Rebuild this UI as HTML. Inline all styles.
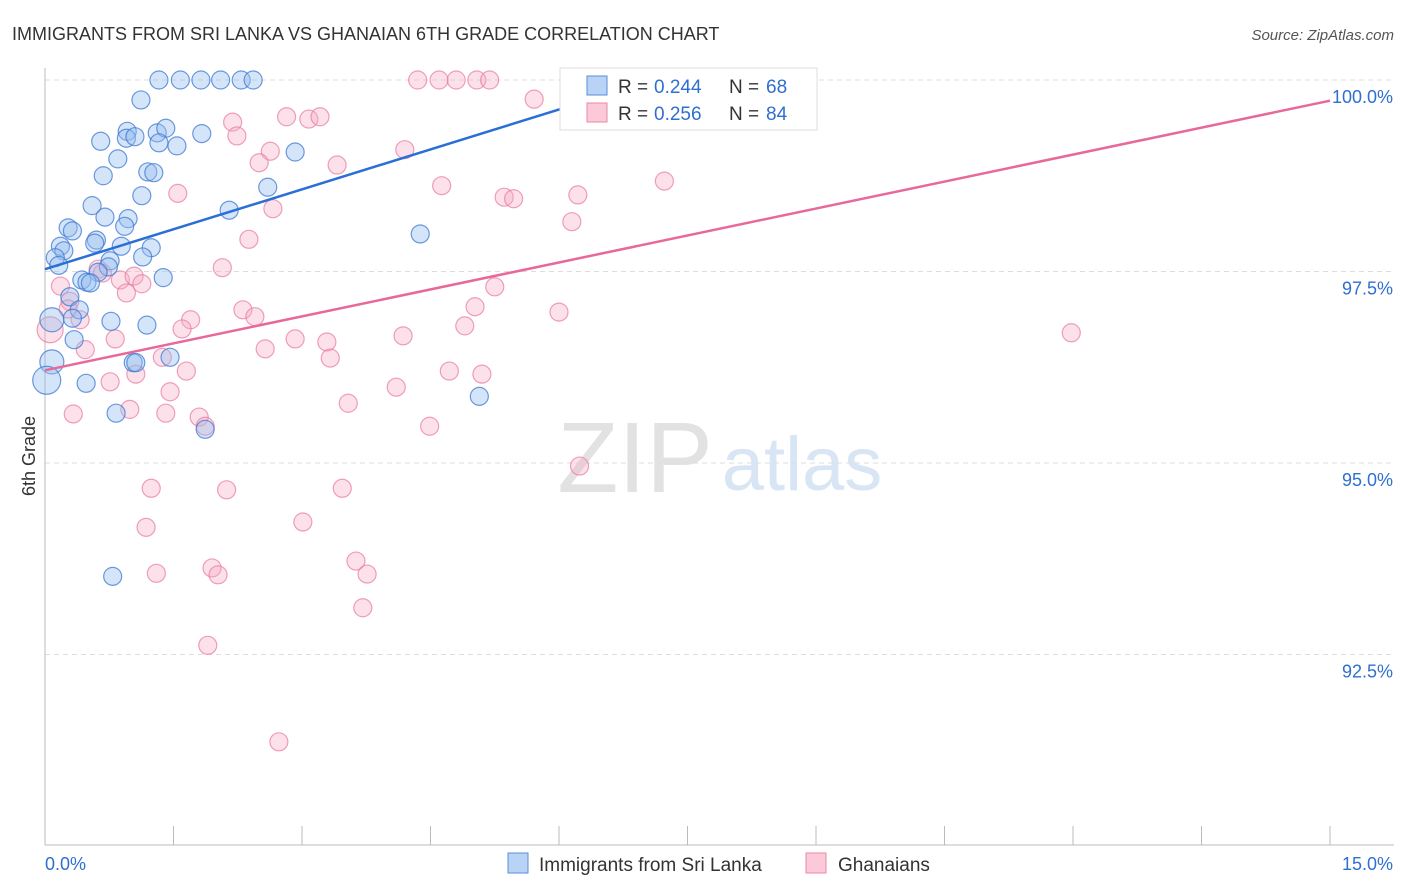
<!DOCTYPE html>
<html><head><meta charset="utf-8">
<style>
html,body{margin:0;padding:0;background:#fff;width:1406px;height:892px;overflow:hidden;font-family:"Liberation Sans",sans-serif;}
svg text{font-family:"Liberation Sans",sans-serif;}
</style></head>
<body>
<svg id="chart" width="1406" height="892" xmlns="http://www.w3.org/2000/svg">
<text x="12" y="40" font-size="18" fill="#333">IMMIGRANTS FROM SRI LANKA VS GHANAIAN 6TH GRADE CORRELATION CHART</text>
<text x="1394" y="40" font-size="15" fill="#555" font-style="italic" text-anchor="end">Source: ZipAtlas.com</text>
<text x="35" y="456" font-size="18" fill="#333" transform="rotate(-90 35 456)" text-anchor="middle">6th Grade</text>
<g>
<text x="635" y="492" font-size="100" fill="#e2e2e2" font-family="Liberation Serif" text-anchor="middle">ZIP</text>
<text x="802" y="490" font-size="76" fill="#d8e5f4" text-anchor="middle">atlas</text>
</g>
<g id="grid"></g>
<g id="axes"></g>
<g id="pts"></g>
<g id="lines"></g>
<g>
<rect x="560" y="68" width="257" height="62" fill="#fff" stroke="#ddd"/>
<rect x="587" y="76" width="20" height="19" fill="#b8d3f5" stroke="#5b8fd6"/>
<rect x="587" y="103" width="20" height="19" fill="#fbc9d7" stroke="#e889a8"/>
<text x="618" y="93" font-size="19" fill="#333">R =</text>
<text x="654" y="93" font-size="19" fill="#2f6fd0">0.244</text>
<text x="729" y="93" font-size="19" fill="#333">N =</text>
<text x="766" y="93" font-size="19" fill="#2f6fd0">68</text>
<text x="618" y="120" font-size="19" fill="#333">R =</text>
<text x="654" y="120" font-size="19" fill="#2f6fd0">0.256</text>
<text x="729" y="120" font-size="19" fill="#333">N =</text>
<text x="766" y="120" font-size="19" fill="#2f6fd0">84</text>
</g>
<g>
<rect x="508" y="853" width="20" height="20" fill="#b8d3f5" stroke="#5b8fd6"/>
<text x="539" y="871" font-size="19" fill="#333">Immigrants from Sri Lanka</text>
<rect x="806" y="853" width="20" height="20" fill="#fbc9d7" stroke="#e889a8"/>
<text x="838" y="871" font-size="19" fill="#333">Ghanaians</text>
</g>
</svg>
<script>
const xTicks=[0,1.5,3,4.5,6,7.5,9,10.5,12,13.5,15];
const yTicks=[100,97.5,95,92.5];
const yTickLabels=["100.0%","97.5%","95.0%","92.5%"];
const xEndLabels=["0.0%","15.0%"];
const blueX=[1.33,1.58,1.82,2.05,2.29,2.43,1.12,0.65,0.96,0.95,1.05,1.31,1.41,1.33,1.54,1.83,2.92,0.85,0.68,1.20,1.27,2.60,1.13,0.55,0.70,0.97,2.15,0.93,0.27,0.32,4.38,0.60,0.58,0.18,0.89,0.22,1.24,0.12,1.14,0.76,0.16,0.74,0.62,0.43,0.49,0.53,1.38,0.29,0.40,0.32,0.08,0.77,1.19,0.34,1.03,1.06,1.46,0.08,0.02,0.48,5.07,0.83,1.87,0.79];
const blueY=[100,100,100,100,100,100,99.74,99.20,99.33,99.24,99.26,99.31,99.37,99.18,99.14,99.30,99.06,98.97,98.75,98.80,98.79,98.60,98.49,98.36,98.21,98.19,98.30,98.09,98.07,98.03,97.99,97.91,97.87,97.83,97.83,97.77,97.81,97.68,97.69,97.64,97.58,97.56,97.49,97.39,97.36,97.35,97.42,97.17,97.00,96.89,96.87,96.85,96.80,96.61,96.31,96.31,96.38,96.32,96.08,96.04,95.87,95.65,95.44,93.52];
const blueSize=[9,9,9,9,9,9,9,9,9,9,9,9,9,9,9,9,9,9,9,9,9,9,9,9,9,9,9,9,9,9,9,9,9,9,9,9,9,9,9,9,9,9,9,9,9,9,9,9,9,9,12,9,9,9,9,9,9,12,14,9,9,9,9,9];
const pinkX=[4.35,4.60,4.80,5.04,5.19,5.71,2.19,2.24,2.82,3.08,3.21,4.20,2.63,2.50,3.41,1.55,4.63,5.36,5.47,6.22,7.23,2.66,6.15,2.38,2.07,0.62,0.67,0.18,0.88,1.04,1.13,0.95,5.25,0.29,0.27,0.41,2.31,2.45,1.70,1.60,6.00,5.02,4.90,2.92,3.29,4.18,0.82,0.47,2.57,3.33,1.37,1.65,1.06,0.76,4.72,5.10,4.10,1.46,3.54,0.33,0.99,1.41,1.80,1.87,4.49,6.24,1.24,2.12,3.47,1.18,3.01,3.63,1.30,1.95,2.02,3.76,3.71,1.90,2.73,11.98,0.06];
const pinkY=[100,100,100,100,100,99.75,99.45,99.27,99.52,99.49,99.52,99.09,99.07,98.92,98.89,98.52,98.62,98.47,98.45,98.50,98.68,98.32,98.15,97.92,97.55,97.53,97.48,97.31,97.39,97.44,97.34,97.22,97.30,97.11,97.01,96.87,97.00,96.91,96.87,96.75,96.97,97.04,96.79,96.62,96.58,96.66,96.62,96.48,96.49,96.37,96.38,96.20,96.16,96.06,96.20,96.16,95.99,95.93,95.78,95.64,95.70,95.65,95.60,95.48,95.48,94.96,94.67,94.65,94.67,94.16,94.23,93.72,93.56,93.63,93.54,93.55,93.11,92.62,91.36,96.70,96.74];
const blueTrend=[0,97.53,6.36,99.74];
const pinkTrend=[0,96.21,15,99.73];
const X=v=>45+v*(1330-45)/15;
const Y=v=>80+(100-v)*(191.5/2.5);
const NS="http://www.w3.org/2000/svg";
function mk(parent,tag,attrs){const e=document.createElementNS(NS,tag);for(const k in attrs)e.setAttribute(k,attrs[k]);document.getElementById(parent).appendChild(e);return e;}
yTicks.forEach((t,i)=>{
 const g=mk('grid','line',{x1:45,x2:1394,y1:Y(t),y2:Y(t),stroke:'#ddd','stroke-dasharray':'5,4'});
 
 
 const l=mk('axes','text',{x:1393,y:Y(t)+23,'font-size':18,fill:'#2f6fd0','text-anchor':'end'});
 l.textContent=yTickLabels[i];
 
 
});
const ya=mk('axes','line',{x1:45,x2:45,y1:68,y2:845,stroke:'#bbb'});


const xa=mk('axes','line',{x1:45,x2:1394,y1:845,y2:845,stroke:'#bbb'});


xTicks.forEach(t=>{
 const k=mk('axes','line',{x1:X(t),x2:X(t),y1:826,y2:845,stroke:'#bbb'});
 
 
});
const xl0=mk('axes','text',{x:45,y:870,'font-size':18,fill:'#2f6fd0'});
xl0.textContent=xEndLabels[0];


const xl1=mk('axes','text',{x:1393,y:870,'font-size':18,fill:'#2f6fd0','text-anchor':'end'});
xl1.textContent=xEndLabels[1];


pinkX.forEach((v,i)=>{
 const c=mk('pts','circle',{cx:X(v),cy:Y(pinkY[i]),r:(i==80?13:9),fill:'rgba(246,170,195,0.35)',stroke:'rgba(232,120,160,0.7)','stroke-width':1.2});
 
 
});
blueX.forEach((v,i)=>{
 const c=mk('pts','circle',{cx:X(v),cy:Y(blueY[i]),r:blueSize[i],fill:'rgba(150,190,240,0.4)',stroke:'rgba(60,120,210,0.75)','stroke-width':1.2});
 
 
});
const bl=mk('lines','line',{x1:X(blueTrend[0]),y1:Y(blueTrend[1]),x2:X(blueTrend[2]),y2:Y(blueTrend[3]),stroke:'#2a6fd6','stroke-width':2.5});


const pl=mk('lines','line',{x1:X(pinkTrend[0]),y1:Y(pinkTrend[1]),x2:X(pinkTrend[2]),y2:Y(pinkTrend[3]),stroke:'#e8689a','stroke-width':2.5});


</script>
</body></html>
